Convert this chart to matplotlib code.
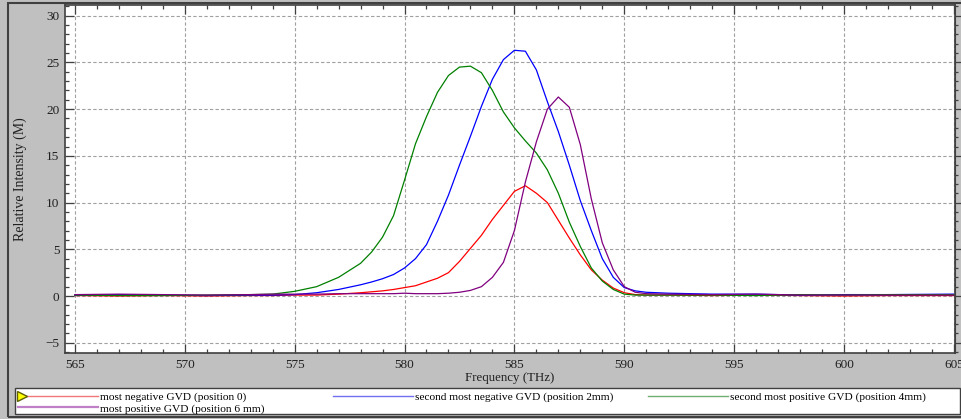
#%% Imports
import matplotlib
matplotlib.use('Agg')
import matplotlib.pyplot as plt
from matplotlib.lines import Line2D
from matplotlib.patches import Rectangle
from matplotlib.ticker import MultipleLocator
from matplotlib.legend_handler import HandlerLine2D


#%% Data
freq = [565, 567, 569, 571, 573, 574, 575, 576, 577, 578,
        578.5, 579, 579.5, 580, 580.5, 581, 581.5, 582, 582.5, 583,
        583.5, 584, 584.5, 585, 585.5, 586, 586.5, 587, 587.5, 588,
        588.5, 589, 589.5, 590, 590.5,
        591, 592, 594, 596, 598, 600, 602, 605]

neg_gvd_0mm = [0.05, 0.0, 0.05, 0.0, 0.05, 0.05, 0.1, 0.1, 0.2, 0.35,
               0.45, 0.55, 0.7, 0.9, 1.1, 1.5, 1.9, 2.5, 3.7, 5.1,
               6.5, 8.2, 9.7, 11.2, 11.8, 11.0, 10.0, 8.1, 6.2, 4.4,
               2.8, 1.7, 0.85, 0.35, 0.15,
               0.1, 0.1, 0.05, 0.1, 0.05, 0.0, 0.05, 0.05]

neg_gvd_2mm = [0.1, 0.15, 0.1, 0.05, 0.1, 0.1, 0.15, 0.35, 0.7, 1.2,
               1.5, 1.85, 2.3, 3.0, 4.0, 5.5, 8.0, 10.8, 14.0, 17.1,
               20.3, 23.2, 25.3, 26.3, 26.2, 24.2, 20.8, 17.6, 14.0, 10.2,
               7.0, 4.0, 2.0, 0.9, 0.55,
               0.4, 0.3, 0.2, 0.2, 0.1, 0.15, 0.15, 0.2]

pos_gvd_4mm = [0.1, 0.05, 0.05, 0.1, 0.15, 0.2, 0.5, 1.0, 2.0, 3.5,
               4.7, 6.3, 8.6, 12.4, 16.3, 19.2, 21.8, 23.6, 24.5, 24.6,
               23.9, 22.0, 19.7, 18.0, 16.6, 15.3, 13.5, 11.0, 7.9, 5.3,
               3.0, 1.6, 0.7, 0.2, 0.1,
               0.1, 0.1, 0.1, 0.05, 0.15, 0.1, 0.15, 0.15]

pos_gvd_6mm = [0.15, 0.2, 0.15, 0.1, 0.15, 0.2, 0.2, 0.2, 0.25, 0.25,
               0.25, 0.25, 0.25, 0.3, 0.25, 0.25, 0.25, 0.3, 0.4, 0.6,
               1.0, 2.0, 3.6, 7.0, 12.2, 16.5, 20.0, 21.3, 20.2, 16.2,
               10.4, 5.7, 2.8, 1.0, 0.4,
               0.25, 0.2, 0.15, 0.2, 0.1, 0.1, 0.1, 0.1]

labels = ['most negative GVD (position 0)',
          'second most negative GVD (position 2mm)',
          'second most positive GVD (position 4mm)',
          'most positive GVD (position 6 mm)']

x_ticks = [565, 570, 575, 580, 585, 590, 595, 600, 605]
y_ticks = [-5, 0, 5, 10, 15, 20, 25, 30]


#%% Legend handler: marker only at the left end of the line
class StartMarkerHandler(HandlerLine2D):
    def create_artists(self, legend, orig_handle, xdescent, ydescent,
                       width, height, fontsize, trans):
        artists = super().create_artists(legend, orig_handle, xdescent,
                                         ydescent, width, height, fontsize,
                                         trans)
        line = artists[0]
        ydata = line.get_ydata()
        line.set_data([-xdescent + 3, -xdescent + width], [ydata[0], ydata[0]])
        line.set_markevery([0])
        return artists


#%% Plot
plt.rcParams['font.family'] = ['Liberation Serif', 'DejaVu Serif']
plt.rcParams['font.size'] = 9

panel = '#c0c0c0'
dark = '#404040'
W, H = 962, 419

fig = plt.figure(figsize=(9.62, 4.19), dpi=100, facecolor=panel)
fig.patches.append(Rectangle((8 / W, 2 / H), 960 / W, 414 / H,
                             transform=fig.transFigure, facecolor='none',
                             edgecolor=dark, linewidth=1.5))

ax = fig.add_axes([65 / W, 1 - 353 / H, 890 / W, (353 - 4.5) / H])
ax.set_facecolor('white')

ax.plot(freq, neg_gvd_0mm, color='#ff0000', linewidth=0.9)
ax.plot(freq, neg_gvd_2mm, color='#0000ff', linewidth=0.9)
ax.plot(freq, pos_gvd_4mm, color='#008000', linewidth=0.9)
ax.plot(freq, pos_gvd_6mm, color='#800080', linewidth=0.9)

ax.set_xlim(564.55, 605.05)
ax.set_ylim(-6.1, 31.2)
ax.set_xticks(x_ticks)
ax.set_yticks(y_ticks)
ax.xaxis.set_minor_locator(MultipleLocator(1))
ax.yaxis.set_minor_locator(MultipleLocator(1))
ax.tick_params(which='both', direction='in', top=True, right=False,
               colors=dark, labelcolor='#202020', labelsize=9.5, pad=4)
ax.tick_params(which='major', length=6.5, width=0.9)
ax.tick_params(which='minor', length=3.2, width=0.9)
ax.grid(which='major', axis='both', color='#a0a0a0', linestyle=(0, (3, 2)),
        linewidth=0.8)
for spine in ax.spines.values():
    spine.set_color(dark)
    spine.set_linewidth(1.2)

right = ax.secondary_yaxis('right')
right.set_yticks(y_ticks)
right.yaxis.set_minor_locator(MultipleLocator(1))
right.tick_params(which='both', direction='out', colors=dark, labelright=False)
right.tick_params(which='major', length=4, width=0.9)
right.tick_params(which='minor', length=2.5, width=0.9)
right.spines['right'].set_color(dark)

ax.set_xlabel('Frequency (THz)', va='center', color='#202020', fontsize=9.3)
ax.xaxis.set_label_coords(0.5, -0.072)
ax.set_ylabel('Relative Intensity (M)', va='center', color='#202020',
              fontsize=10)
ax.yaxis.set_label_coords(-0.0506, 0.5)

# legend box with three equally wide columns
fig.patches.append(Rectangle((15 / W, 1 - 414 / H), 945 / W, 26 / H,
                             transform=fig.transFigure, facecolor='white',
                             edgecolor=dark, linewidth=1.0))

red_handle = Line2D([], [], color='#f07878', linewidth=1.0, marker='>',
                    markersize=6.5, markerfacecolor='#ffff00',
                    markeredgecolor='#606000')
purple_handle = Line2D([], [], color='#c080c8', linewidth=1.6)
blue_handle = Line2D([], [], color='#7070f0', linewidth=1.0)
green_handle = Line2D([], [], color='#70b070', linewidth=1.0)

columns = [
    (18, [red_handle, purple_handle], [labels[0], labels[3]]),
    (333, [blue_handle], [labels[1]]),
    (648, [green_handle], [labels[2]]),
]
for x0, col_handles, col_labels in columns:
    fig.legend(col_handles, col_labels, loc='upper left',
               bbox_to_anchor=(x0 / W, 1 - 392 / H),
               borderaxespad=0, borderpad=0, labelspacing=0.1,
               handlelength=7.0, handletextpad=0.2, frameon=False,
               fontsize=8.2,
               handler_map={red_handle: StartMarkerHandler()})

fig.savefig('out.png', dpi=100, facecolor=panel)
